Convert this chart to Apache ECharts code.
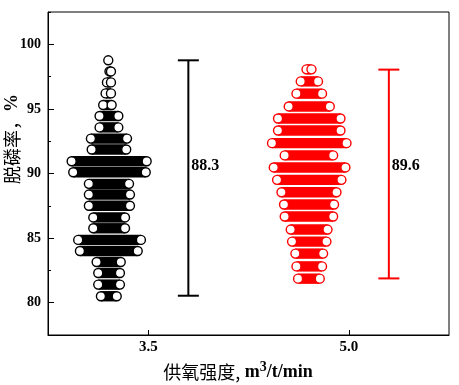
<!DOCTYPE html>
<html><head><meta charset="utf-8">
<script src="https://cdn.jsdelivr.net/npm/echarts@6/dist/echarts.min.js"></script>
<style>html,body{margin:0;padding:0;background:#fff}#c{width:459px;height:385px}</style>
</head><body><div id="c"></div>
<script>
// categories (supply oxygen intensity) and tick labels
const groups = [3.5, 5.0];
const xTickLabels = ['3.5', '5.0'];
const yTickValues = [80, 85, 90, 95, 100];

// group 3.5 : swarm rows (dephosphorization rate, left-most and right-most point positions)
const blackRowY     = [98.76, 97.9, 97.05, 96.2, 95.3, 94.45, 93.57, 92.7, 91.86, 90.95, 90.1, 89.2, 88.37, 87.5, 86.6, 85.76, 84.86, 84.0, 83.15, 82.3, 81.4, 80.5];
const blackRowLeft  = [3.201, 3.210, 3.191, 3.181, 3.163, 3.136, 3.136, 3.071, 3.077, 2.927, 2.939, 3.056, 3.056, 3.056, 3.089, 3.089, 2.976, 2.989, 3.114, 3.126, 3.126, 3.146];
const blackRowRight = [3.201, 3.221, 3.221, 3.221, 3.226, 3.276, 3.276, 3.341, 3.335, 3.488, 3.481, 3.356, 3.363, 3.363, 3.326, 3.326, 3.445, 3.421, 3.294, 3.288, 3.288, 3.264];

// group 5.0
const redRowY     = [98.06, 97.13, 96.18, 95.19, 94.26, 93.33, 92.35, 91.40, 90.47, 89.51, 88.55, 87.60, 86.67, 85.66, 84.73, 83.80, 82.81, 81.86];
const redRowLeft  = [4.684, 4.641, 4.609, 4.551, 4.471, 4.471, 4.426, 4.521, 4.439, 4.464, 4.497, 4.516, 4.521, 4.566, 4.576, 4.601, 4.609, 4.621];
const redRowRight = [4.721, 4.770, 4.800, 4.858, 4.938, 4.938, 4.983, 4.883, 4.975, 4.945, 4.908, 4.890, 4.883, 4.841, 4.833, 4.808, 4.800, 4.783];

// range bars and mean labels
const rangeMin = [80.54, 81.88];
const rangeMax = [98.76, 98.04];
const meanLabels = ['88.3', '89.6'];

const colors = ['#000000', '#ff0000'];
const BAR_OFFSET = 0.3;
const LABEL_Y = 90.6;

function zip3(a, b, c) { return a.map((v, i) => [v, b[i], c[i]]); }

function swarmRender(color) {
  return function (params, api) {
    const y = api.value(0), l = api.value(1), r = api.value(2);
    const pl = api.coord([l, y]), pr = api.coord([r, y]);
    const R = 4.5;
    const ch = [];
    if (pr[0] - pl[0] > 0.5) {
      ch.push({ type: 'rect', shape: { x: pl[0], y: pl[1] - R - 0.7, width: pr[0] - pl[0], height: 2 * R + 1.4 }, style: { fill: color } });
    }
    ch.push({ type: 'circle', shape: { cx: pl[0], cy: pl[1], r: R }, style: { fill: '#fff', stroke: color, lineWidth: 1.4 } });
    if (pr[0] - pl[0] > 0.01) {
      ch.push({ type: 'circle', shape: { cx: pr[0], cy: pr[1], r: R }, style: { fill: '#fff', stroke: color, lineWidth: 1.4 } });
    }
    return { type: 'group', children: ch };
  };
}

function rangeRender(params, api) {
  const i = params.dataIndex;
  const x = api.value(0) + BAR_OFFSET;
  const lo = api.coord([x, api.value(1)]);
  const hi = api.coord([x, api.value(2)]);
  const lab = api.coord([x, LABEL_Y]);
  const c = colors[i];
  const w = 10.5;
  return {
    type: 'group', children: [
      { type: 'line', shape: { x1: lo[0], y1: lo[1], x2: hi[0], y2: hi[1] }, style: { stroke: c, lineWidth: 2 } },
      { type: 'line', shape: { x1: lo[0] - w, y1: lo[1], x2: lo[0] + w, y2: lo[1] }, style: { stroke: c, lineWidth: 2 } },
      { type: 'line', shape: { x1: hi[0] - w, y1: hi[1], x2: hi[0] + w, y2: hi[1] }, style: { stroke: c, lineWidth: 2 } },
      { type: 'text', style: { text: meanLabels[i], x: lab[0] + 3, y: lab[1], align: 'left', verticalAlign: 'middle', fill: '#000', font: 'bold 16px "Liberation Serif", "Times New Roman", serif' } }
    ]
  };
}

const chart = echarts.init(document.getElementById('c'), null, { renderer: 'canvas' });
const serifBold = { fontFamily: '"Liberation Serif", "Times New Roman", serif', fontWeight: 'bold', color: '#000' };

chart.setOption({
  animation: false,
  backgroundColor: '#fff',
  grid: { left: 48, right: 10, top: 12, bottom: 50, show: true, borderColor: '#000', borderWidth: 1, backgroundColor: 'transparent' },
  xAxis: {
    type: 'value', min: 2.75, max: 5.75,
    axisLine: { show: true, onZero: false, lineStyle: { color: '#000', width: 1 } },
    axisTick: { show: true, inside: true, length: 5, customValues: groups, lineStyle: { color: '#000', width: 1 } },
    axisLabel: Object.assign({ customValues: groups, fontSize: 15, margin: 5, formatter: v => xTickLabels[groups.indexOf(v)] !== undefined ? xTickLabels[groups.indexOf(v)] : v.toFixed(1) }, serifBold),
    splitLine: { show: false }
  },
  yAxis: [
    {
      type: 'value', min: 77.5, max: 102.5, interval: 2.5,
      axisLine: { show: true, onZero: false, lineStyle: { color: '#000', width: 1 } },
      axisTick: { show: true, inside: true, length: 3, lineStyle: { color: '#000', width: 1 } },
      axisLabel: { show: false },
      splitLine: { show: false }
    },
    {
      type: 'value', min: 77.5, max: 102.5, position: 'left', offset: 0,
      axisLine: { show: false },
      axisTick: { show: true, inside: true, length: 6, customValues: yTickValues, lineStyle: { color: '#000', width: 1 } },
      axisLabel: Object.assign({ customValues: yTickValues, fontSize: 14, margin: 7 }, serifBold),
      splitLine: { show: false }
    }
  ],
  series: [
    { type: 'custom', name: '3.5', xAxisIndex: 0, yAxisIndex: 0, renderItem: swarmRender(colors[0]), data: zip3(blackRowY, blackRowLeft, blackRowRight), encode: { x: [1, 2], y: 0 }, silent: true },
    { type: 'custom', name: '5.0', xAxisIndex: 0, yAxisIndex: 0, renderItem: swarmRender(colors[1]), data: zip3(redRowY, redRowLeft, redRowRight), encode: { x: [1, 2], y: 0 }, silent: true },
    { type: 'custom', name: 'range', xAxisIndex: 0, yAxisIndex: 0, renderItem: rangeRender, data: groups.map((g, i) => [g, rangeMin[i], rangeMax[i]]), encode: { x: 0, y: [1, 2] }, silent: true }
  ],
  graphic: [
    {
      type: 'text', x: 12.5, y: 139, rotation: Math.PI / 2,
      style: {
        text: '{a|脱磷率，}{p|%}', x: 0, y: 0, align: 'center', verticalAlign: 'middle',
        rich: {
          a: { fontFamily: '"Noto Sans CJK SC"', fontSize: 18, fill: '#000', color: '#000' },
          p: { fontFamily: '"Liberation Serif", serif', fontSize: 18, fontWeight: 'bold', fill: '#000', color: '#000' }
        }
      }
    },
    {
      type: 'text', x: 238, y: 369,
      style: {
        text: '{a|供氧强度,}{b| m}{s|3}{b|/t/min}', x: 0, y: 0, align: 'center', verticalAlign: 'middle',
        rich: {
          a: { fontFamily: '"Noto Sans CJK SC"', fontSize: 18, fill: '#000', color: '#000', lineHeight: 24, verticalAlign: 'bottom' },
          b: { fontFamily: '"Liberation Serif", serif', fontSize: 18, fontWeight: 'bold', fill: '#000', color: '#000', lineHeight: 24, verticalAlign: 'bottom' },
          s: { fontFamily: '"Liberation Serif", serif', fontSize: 14, fontWeight: 'bold', fill: '#000', color: '#000', lineHeight: 24, verticalAlign: 'top', padding: [3, 0, 0, 0] }
        }
      }
    }
  ]
});
</script>
</body></html>
